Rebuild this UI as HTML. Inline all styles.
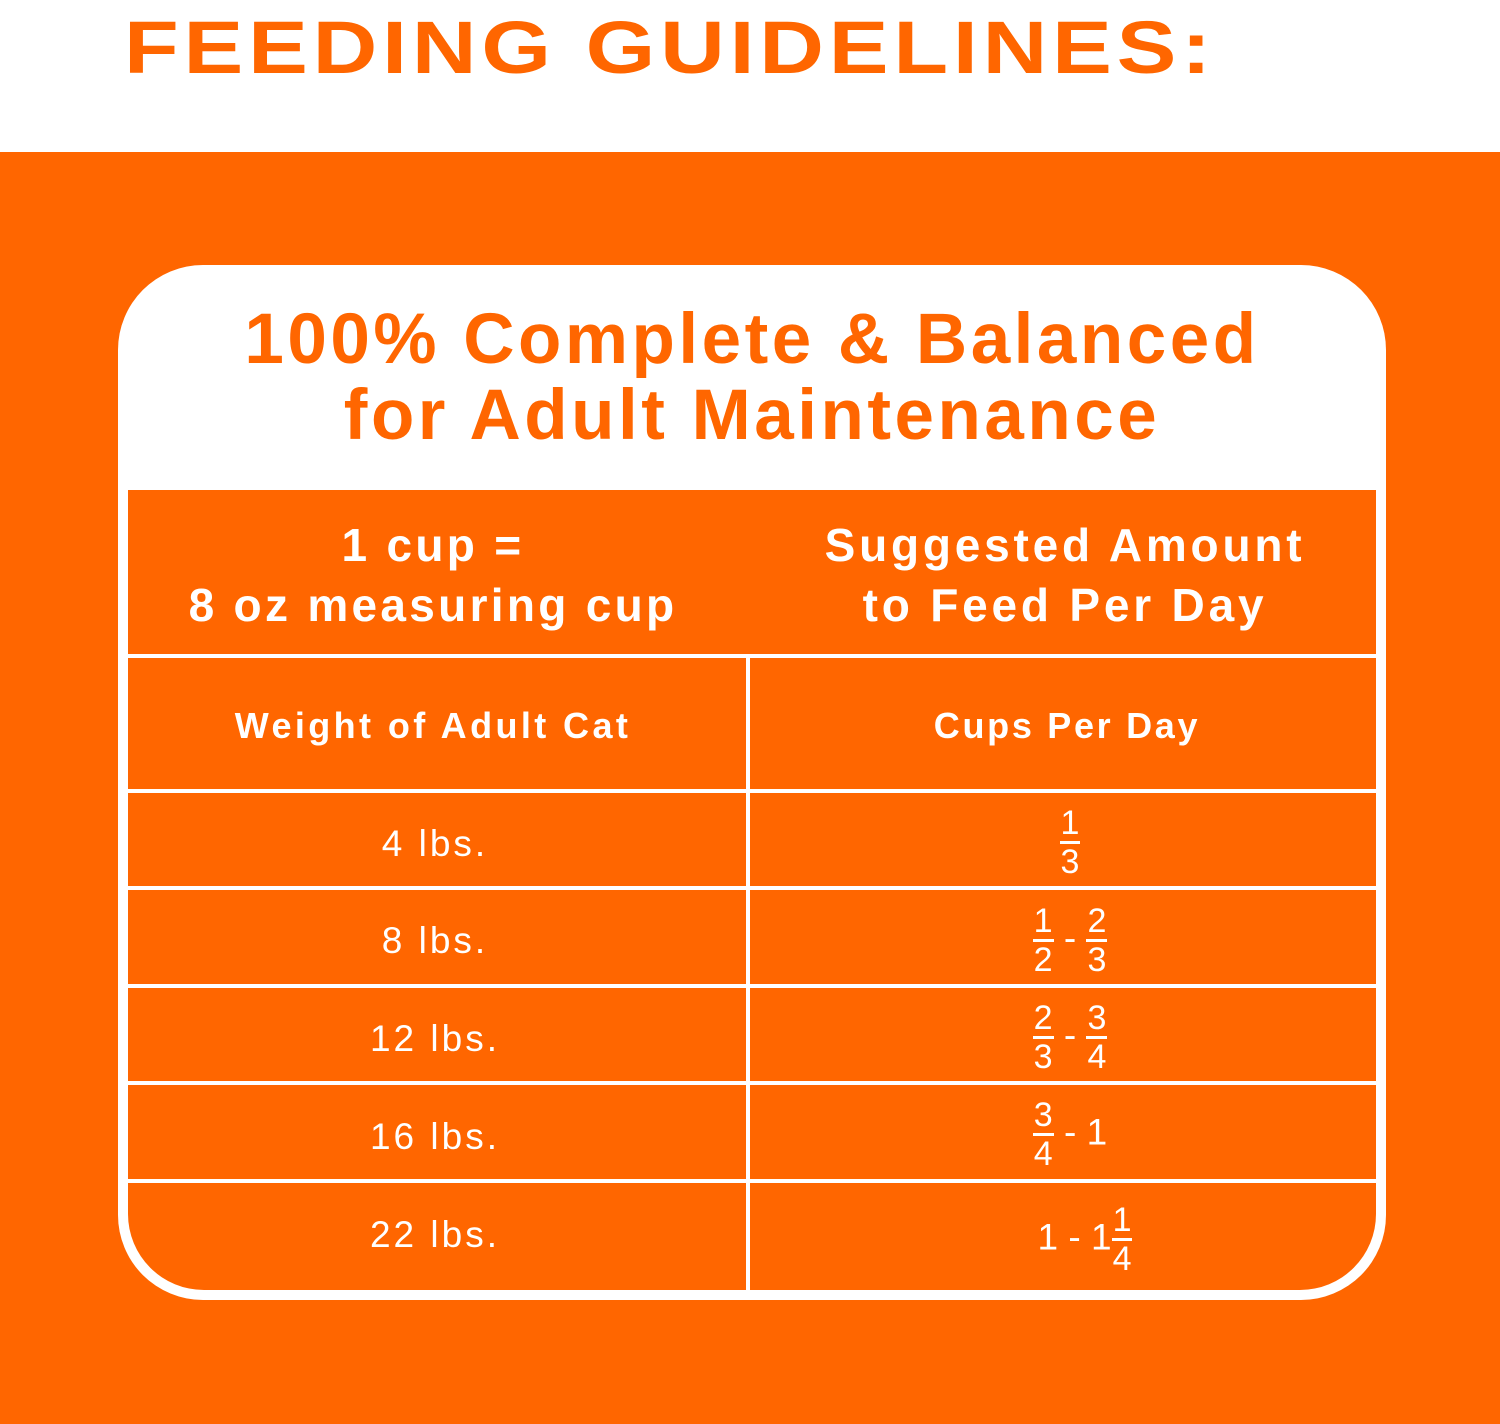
<!DOCTYPE html>
<html><head><style>
body{margin:0;width:1500px;height:1424px;position:relative;background:#fff;font-family:"Liberation Sans",sans-serif;overflow:hidden}
.a{position:absolute}
.t{color:#fff;text-align:center;font-weight:bold}
.r{color:#fff;font-size:37px;text-align:center;line-height:1;letter-spacing:3px}
.f{letter-spacing:0}
.fr{display:inline-block;vertical-align:middle;text-align:center;font-size:34px;line-height:1;letter-spacing:0}
.fr span{display:block;padding:0 1px}
.fr span:first-child{border-bottom:3px solid #fff;padding-bottom:1px}
.fr span:last-child{padding-top:1px}
.ln{position:absolute;background:#fff}
</style></head><body>
<div class="a" style="left:124px;top:11px;font-size:74px;font-weight:bold;color:#ff6600;letter-spacing:4px;line-height:1;white-space:nowrap;transform:scaleX(1.21);transform-origin:0 0">FEEDING GUIDELINES:</div>
<div class="a" style="left:0;top:152px;width:1500px;height:1272px;background:#ff6600"></div>
<div class="a" style="left:118px;top:265px;width:1268px;height:1035px;background:#fff;border-radius:85px"></div>
<div class="a" style="left:128px;top:490px;width:1248px;height:800px;background:#ff6600;border-radius:0 0 76px 76px"></div>
<div class="a" style="left:118px;top:302px;width:1268px;text-align:center;color:#ff6600;font-weight:bold;font-size:71px;line-height:76px;letter-spacing:3.5px">100% Complete &amp; Balanced<br>for Adult Maintenance</div>
<div class="ln" style="left:128px;top:654px;width:1248px;height:4px"></div>
<div class="ln" style="left:128px;top:789px;width:1248px;height:4px"></div>
<div class="ln" style="left:128px;top:886px;width:1248px;height:4px"></div>
<div class="ln" style="left:128px;top:984px;width:1248px;height:4px"></div>
<div class="ln" style="left:128px;top:1081px;width:1248px;height:4px"></div>
<div class="ln" style="left:128px;top:1179px;width:1248px;height:4px"></div>
<div class="ln" style="left:746px;top:656px;width:4px;height:640px"></div>
<div class="a t" style="left:118px;top:515px;width:630px;font-size:46px;line-height:60px;letter-spacing:3.3px">1 cup =<br>8 oz measuring cup</div>
<div class="a t" style="left:750px;top:515px;width:630px;font-size:46px;line-height:60px;letter-spacing:3.8px">Suggested Amount<br>to Feed Per Day</div>
<div class="a t" style="left:118px;top:705px;width:630px;font-size:36px;letter-spacing:3.4px">Weight of Adult Cat</div>
<div class="a t" style="left:750px;top:705px;width:634px;font-size:36px;letter-spacing:2.7px">Cups Per Day</div>
<div class="a r" style="left:118px;top:825px;width:634px">4 lbs.</div>
<div class="a r" style="left:118px;top:922px;width:634px">8 lbs.</div>
<div class="a r" style="left:118px;top:1020px;width:634px">12 lbs.</div>
<div class="a r" style="left:118px;top:1118px;width:634px">16 lbs.</div>
<div class="a r" style="left:118px;top:1216px;width:634px">22 lbs.</div>
<div class="a r f" style="left:750px;top:806px;width:640px"><span class="fr"><span>1</span><span>3</span></span></div>
<div class="a r f" style="left:750px;top:904px;width:640px"><span class="fr"><span>1</span><span>2</span></span> - <span class="fr"><span>2</span><span>3</span></span></div>
<div class="a r f" style="left:750px;top:1001px;width:640px"><span class="fr"><span>2</span><span>3</span></span> - <span class="fr"><span>3</span><span>4</span></span></div>
<div class="a r f" style="left:750px;top:1098px;width:640px"><span class="fr"><span>3</span><span>4</span></span> - 1</div>
<div class="a r f" style="left:750px;top:1203px;width:670px">1 - 1<span class="fr"><span>1</span><span>4</span></span></div>
</body></html>
